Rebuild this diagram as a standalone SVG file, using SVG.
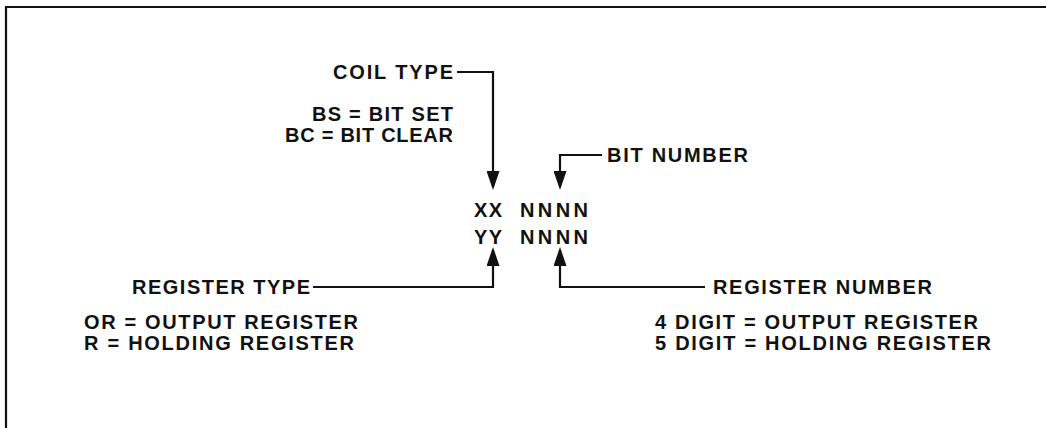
<svg xmlns="http://www.w3.org/2000/svg" width="1046" height="428" viewBox="0 0 1046 428">
<defs>
<style>
text{font-family:"Liberation Sans",Arial,sans-serif;font-weight:bold;font-size:20px;fill:#111}
.ln{fill:none;stroke:#111;stroke-width:2.2}
</style>
<marker id="arr" viewBox="0 0 19 13" refX="16" refY="6.5" markerWidth="19" markerHeight="13" markerUnits="userSpaceOnUse" orient="auto">
<path d="M0,0 L19,6.5 L0,13 Z" fill="#111"/>
</marker>
</defs>
<rect width="1046" height="428" fill="#fff"/>
<path d="M6,428 V7 H1046" class="ln"/>
<g id="coil-type"><text x="333" y="79" textLength="120" lengthAdjust="spacing">COIL TYPE</text></g>
<g id="coil-values">
<text x="312" y="121" textLength="141" lengthAdjust="spacing">BS = BIT SET</text>
<text x="285" y="142" textLength="168" lengthAdjust="spacing">BC = BIT CLEAR</text>
</g>
<g id="bit-number"><text x="607" y="162" textLength="141" lengthAdjust="spacing">BIT NUMBER</text></g>
<g id="address">
<text x="474" y="217" textLength="28" lengthAdjust="spacing">XX</text>
<text x="520" y="217" textLength="68" lengthAdjust="spacing">NNNN</text>
<text x="474" y="244" textLength="28" lengthAdjust="spacing">YY</text>
<text x="520" y="244" textLength="68" lengthAdjust="spacing">NNNN</text>
</g>
<g id="register-type"><text x="132" y="294" textLength="178" lengthAdjust="spacing">REGISTER TYPE</text></g>
<g id="register-number"><text x="713" y="294" textLength="219" lengthAdjust="spacing">REGISTER NUMBER</text></g>
<g id="register-type-values">
<text x="84" y="329" textLength="274" lengthAdjust="spacing">OR = OUTPUT REGISTER</text>
<text x="84" y="350" textLength="270" lengthAdjust="spacing">R = HOLDING REGISTER</text>
</g>
<g id="register-number-values">
<text x="655" y="329" textLength="323" lengthAdjust="spacing">4 DIGIT = OUTPUT REGISTER</text>
<text x="655" y="350" textLength="336" lengthAdjust="spacing">5 DIGIT = HOLDING REGISTER</text>
</g>
<g id="connectors">
<path d="M457,72 H493 V187" class="ln" marker-end="url(#arr)"/>
<path d="M602,155 H560 V187" class="ln" marker-end="url(#arr)"/>
<path d="M313,287 H493 V250" class="ln" marker-end="url(#arr)"/>
<path d="M705,287 H560 V250" class="ln" marker-end="url(#arr)"/>
</g>
</svg>
